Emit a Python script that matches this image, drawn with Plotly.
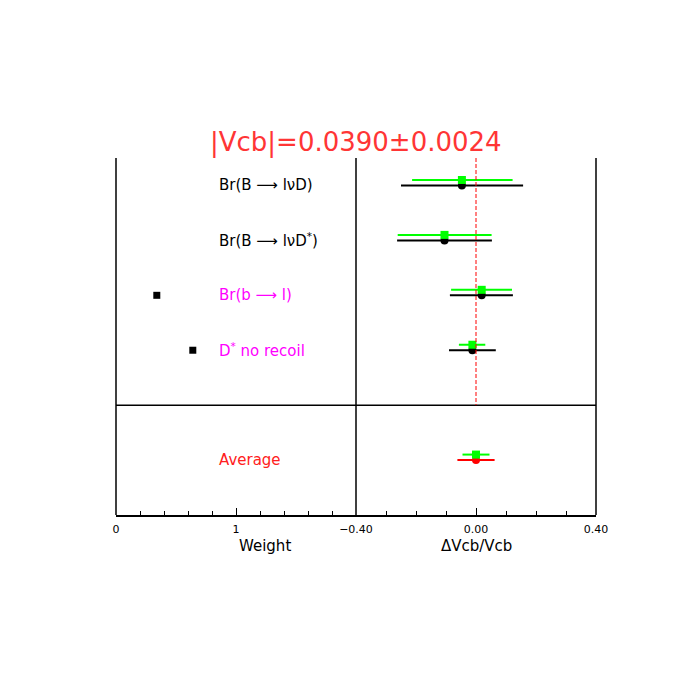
import plotly.graph_objects as go

# rows of the comparison, top to bottom
labels = ["Br(B ⟶ lνD)", "Br(B ⟶ lνD<sup>*</sup>)", "Br(b ⟶ l)", "D<sup>*</sup> no recoil"]
label_colors = ["black", "black", "#ff00ff", "#ff00ff"]
rows = [1, 2, 3, 4]

# weight of each measurement in the average (first two carry none)
weight_rows = [3, 4]
weights = [0.34, 0.64]

# dVcb/Vcb per measurement: green = inner error, black = total error
central = [-0.047, -0.105, 0.019, -0.012]
green_lo = [0.166, 0.156, 0.102, 0.045]
green_hi = [0.169, 0.157, 0.101, 0.043]
black_lo = [0.203, 0.158, 0.106, 0.078]
black_hi = [0.204, 0.158, 0.104, 0.078]

# average
avg_row = 6
avg_central = 0.0
avg_green_lo, avg_green_hi = 0.045, 0.045
avg_red_lo, avg_red_hi = 0.062, 0.062

ref_line = 0.0
title_text = "|Vcb|=0.0390±0.0024"

font = "DejaVu Sans"
off = 0.1  # green points sit slightly above the black ones

fig = go.Figure()

# weights (left panel)
fig.add_trace(go.Scatter(x=weights, y=weight_rows, mode="markers",
                         marker=dict(symbol="square", size=7, color="black"),
                         xaxis="x", yaxis="y", showlegend=False))

# measurements (right panel)
fig.add_trace(go.Scatter(x=central, y=rows, mode="markers",
                         marker=dict(symbol="circle", size=8, color="black"),
                         error_x=dict(type="data", symmetric=False, array=black_hi, arrayminus=black_lo,
                                      color="black", thickness=2, width=0),
                         xaxis="x2", yaxis="y", showlegend=False))
fig.add_trace(go.Scatter(x=central, y=[r - off for r in rows], mode="markers",
                         marker=dict(symbol="square", size=8, color="#00ff00"),
                         error_x=dict(type="data", symmetric=False, array=green_hi, arrayminus=green_lo,
                                      color="#00ff00", thickness=2, width=0),
                         xaxis="x2", yaxis="y", showlegend=False))

# average
fig.add_trace(go.Scatter(x=[avg_central], y=[avg_row], mode="markers",
                         marker=dict(symbol="circle", size=8, color="#ff0000"),
                         error_x=dict(type="data", symmetric=False, array=[avg_red_hi], arrayminus=[avg_red_lo],
                                      color="#ff0000", thickness=2, width=0),
                         xaxis="x2", yaxis="y", showlegend=False))
fig.add_trace(go.Scatter(x=[avg_central], y=[avg_row - off], mode="markers",
                         marker=dict(symbol="square", size=8, color="#00ff00"),
                         error_x=dict(type="data", symmetric=False, array=[avg_green_hi], arrayminus=[avg_green_lo],
                                      color="#00ff00", thickness=2, width=0),
                         xaxis="x2", yaxis="y", showlegend=False))

annotations = []
for lab, col, r in zip(labels, label_colors, rows):
    annotations.append(dict(x=0.84, y=r, xref="x", yref="y", text=lab, showarrow=False,
                            xanchor="left", yanchor="middle", font=dict(family=font, size=15, color=col)))
annotations.append(dict(x=0.84, y=avg_row, xref="x", yref="y", text="Average", showarrow=False,
                        xanchor="left", yanchor="middle", font=dict(family=font, size=15, color="#ff2020")))
annotations.append(dict(x=0.5, y=1, xref="paper", yref="paper", text=title_text, showarrow=False,
                        xanchor="center", yanchor="middle", yshift=16,
                        font=dict(family=font, size=26, color="#ff3535")))
annotations.append(dict(x=0.31, y=0, xref="paper", yref="paper", text="Weight", showarrow=False,
                        xanchor="center", yanchor="middle", yshift=-31,
                        font=dict(family=font, size=15, color="black")))
annotations.append(dict(x=0.75, y=0, xref="paper", yref="paper", text="ΔVcb/Vcb", showarrow=False,
                        xanchor="center", yanchor="middle", yshift=-31,
                        font=dict(family=font, size=15, color="black")))

shapes = []
for px in [0, 0.5, 1]:
    shapes.append(dict(type="line", xref="paper", yref="paper", x0=px, x1=px, y0=0, y1=1,
                       line=dict(color="black", width=1.5)))
shapes.append(dict(type="line", xref="paper", yref="y", x0=0, x1=1, y0=5, y1=5,
                   line=dict(color="black", width=1.5)))
shapes.append(dict(type="line", xref="x2", yref="y", x0=ref_line, x1=ref_line, y0=0.5, y1=5,
                   line=dict(color="#ff0000", width=1, dash="4px,2px")))

axis_common = dict(showline=True, linecolor="black", linewidth=1.5, showgrid=False, zeroline=False,
                   ticks="inside", ticklen=7, tickcolor="black", tickfont=dict(family=font, size=11, color="black"),
                   ticklabelstandoff=3, anchor="y")

fig.update_layout(
    width=681, height=681,
    margin=dict(l=108, r=93, t=150, b=174),
    paper_bgcolor="white", plot_bgcolor="white",
    xaxis=dict(domain=[0, 0.5], range=[0, 2], tickmode="array", tickvals=[0, 1], ticktext=["0", "1"],
               minor=dict(dtick=0.2, tick0=0, ticks="inside", ticklen=4, tickcolor="black"), **axis_common),
    xaxis2=dict(domain=[0.5, 1], range=[-0.4, 0.4], tickmode="array", tickvals=[-0.4, 0, 0.4],
                ticktext=["−0.40", "0.00", "0.40"],
                minor=dict(dtick=0.1, tick0=0, ticks="inside", ticklen=4, tickcolor="black"), **axis_common),
    yaxis=dict(range=[7, 0.5], visible=False),
    annotations=annotations,
    shapes=shapes,
)

fig.write_html("out.html")
